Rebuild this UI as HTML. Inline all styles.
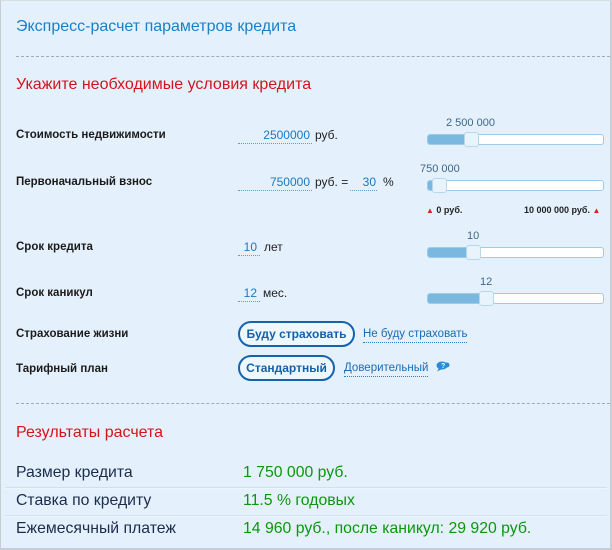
<!DOCTYPE html>
<html><head><meta charset="utf-8">
<style>
*{margin:0;padding:0;box-sizing:border-box}
html,body{width:612px;height:550px;overflow:hidden;background:#fff}
body{font-family:"Liberation Sans","DejaVu Sans",sans-serif;position:relative}
#w{position:absolute;left:0;top:0;width:612px;height:550px;background:#e4f1fd;border:1px solid #c6cdd3;border-top:1px solid #d6dde3;border-right:2px solid #c6cdd3;border-bottom:2px solid #c6cdd3}
.a{position:absolute;white-space:nowrap}
.t{font-size:16px;line-height:20px}
.blue{color:#1a80c6}
.red{color:#d3141b}
.dash{position:absolute;height:0;border-top:1px dashed #a4aab0}
.lbl{font-size:11.5px;font-weight:bold;line-height:16px;color:#1b1b1b}
.inp{position:absolute;height:16px;line-height:15px;font-size:12px;color:#1a78c2;text-align:right;border-bottom:1px dotted #5a9ed4}
.unit{font-size:12px;line-height:16px;color:#222}
.track{position:absolute;left:427px;width:177px;height:11px;background:#fff;border:1px solid #9dcbec;border-radius:3px;overflow:hidden}
.fill{position:absolute;left:0;top:0;bottom:0;background:#7ab8e0}
.thumb{position:absolute;width:15px;height:15px;background:#e9f3fb;border:1px solid #b7d7ef;border-radius:3px}
.sl{font-size:11px;line-height:14px;color:#3c6888}
.btn{position:absolute;height:26px;border:2px solid #1463ae;border-radius:13px;font-size:12px;font-weight:bold;color:#1460a8;text-align:center;line-height:22px;background:#eef6fe}
.lnk{font-size:11.5px;line-height:16px;color:#1a6ab4;border-bottom:1px dotted #2a7fc6}
.res{font-size:15.8px;line-height:20px;color:#1d2b4c}
.val{font-size:15.8px;line-height:20px;color:#0c960c}
.div{position:absolute;left:5px;width:602px;height:2px;border-top:1px solid #cfe0ee;background:#eef6fd}
.tk{font-size:9px;font-weight:bold;line-height:10px;color:#222}
.tri{color:#d8231d;font-size:8px}
</style></head><body>
<div id="w"></div>

<div class="a t blue" style="left:16px;top:17px">Экспресс-расчет параметров кредита</div>
<div class="dash" style="left:16px;width:594px;top:56px"></div>
<div class="a t red" style="left:16px;top:75px">Укажите необходимые условия кредита</div>

<!-- row 1 -->
<div class="a lbl" style="left:16px;top:127px">Стоимость недвижимости</div>
<div class="inp" style="left:238px;top:128px;width:74px;padding-right:2px">2500000</div>
<div class="a unit" style="left:315px;top:127px">руб.</div>
<div class="a sl" style="left:446px;top:116px">2 500 000</div>
<div class="track" style="top:134px"><div class="fill" style="width:40px"></div></div>
<div class="thumb" style="left:464px;top:132px"></div>

<!-- row 2 -->
<div class="a lbl" style="left:16px;top:174px">Первоначальный взнос</div>
<div class="inp" style="left:238px;top:175px;width:74px;padding-right:2px">750000</div>
<div class="a unit" style="left:315px;top:174px">руб. =</div>
<div class="inp" style="left:350px;top:175px;width:27px;padding-right:1px">30</div>
<div class="a unit" style="left:383px;top:174px">%</div>
<div class="a sl" style="left:420px;top:162px">750 000</div>
<div class="track" style="top:180px"><div class="fill" style="width:8px"></div></div>
<div class="thumb" style="left:432px;top:178px"></div>
<div class="a tk" style="left:426px;top:205px"><span class="tri">▲</span> 0 руб.</div>
<div class="a tk" style="left:524px;top:205px">10 000 000 руб. <span class="tri">▲</span></div>

<!-- row 3 -->
<div class="a lbl" style="left:16px;top:239px">Срок кредита</div>
<div class="inp" style="left:238px;top:240px;width:22px;padding-right:3px">10</div>
<div class="a unit" style="left:264px;top:239px">лет</div>
<div class="a sl" style="left:467px;top:229px">10</div>
<div class="track" style="top:247px"><div class="fill" style="width:42px"></div></div>
<div class="thumb" style="left:466px;top:245px"></div>

<!-- row 4 -->
<div class="a lbl" style="left:16px;top:285px">Срок каникул</div>
<div class="inp" style="left:238px;top:286px;width:22px;padding-right:3px">12</div>
<div class="a unit" style="left:263px;top:285px">мес.</div>
<div class="a sl" style="left:480px;top:275px">12</div>
<div class="track" style="top:293px"><div class="fill" style="width:55px"></div></div>
<div class="thumb" style="left:479px;top:291px"></div>

<!-- row 5 -->
<div class="a lbl" style="left:16px;top:326px">Страхование жизни</div>
<div class="btn" style="left:238px;top:321px;width:117px">Буду страховать</div>
<div class="a lnk" style="left:363px;top:326px">Не буду страховать</div>

<!-- row 6 -->
<div class="a lbl" style="left:16px;top:361px">Тарифный план</div>
<div class="btn" style="left:238px;top:355px;width:97px">Стандартный</div>
<div class="a lnk" style="left:344px;top:360px">Доверительный</div>
<svg class="a" style="left:436px;top:361px" width="14" height="11" viewBox="0 0 14 11">
<ellipse cx="6" cy="4.5" rx="5.5" ry="4" fill="#2a8ad6"/>
<path d="M3 7 L1 10.5 L6 8 Z" fill="#2a8ad6"/>
<ellipse cx="11" cy="4" rx="2.5" ry="2.5" fill="#2a8ad6"/>
<text x="5" y="7" font-size="7" fill="#fff" font-family="Liberation Sans" font-weight="bold">?</text>
</svg>

<div class="dash" style="left:16px;width:594px;top:403px"></div>
<div class="a t red" style="left:16px;top:423px">Результаты расчета</div>

<div class="a res" style="left:16px;top:463px">Размер кредита</div>
<div class="a val" style="left:243px;top:463px">1 750 000 руб.</div>
<div class="div" style="top:487px"></div>
<div class="a res" style="left:16px;top:491px">Ставка по кредиту</div>
<div class="a val" style="left:243px;top:491px">11.5 % годовых</div>
<div class="div" style="top:515px"></div>
<div class="a res" style="left:16px;top:519px">Ежемесячный платеж</div>
<div class="a val" style="left:243px;top:519px">14 960 руб., после каникул: 29 920 руб.</div>
</body></html>
